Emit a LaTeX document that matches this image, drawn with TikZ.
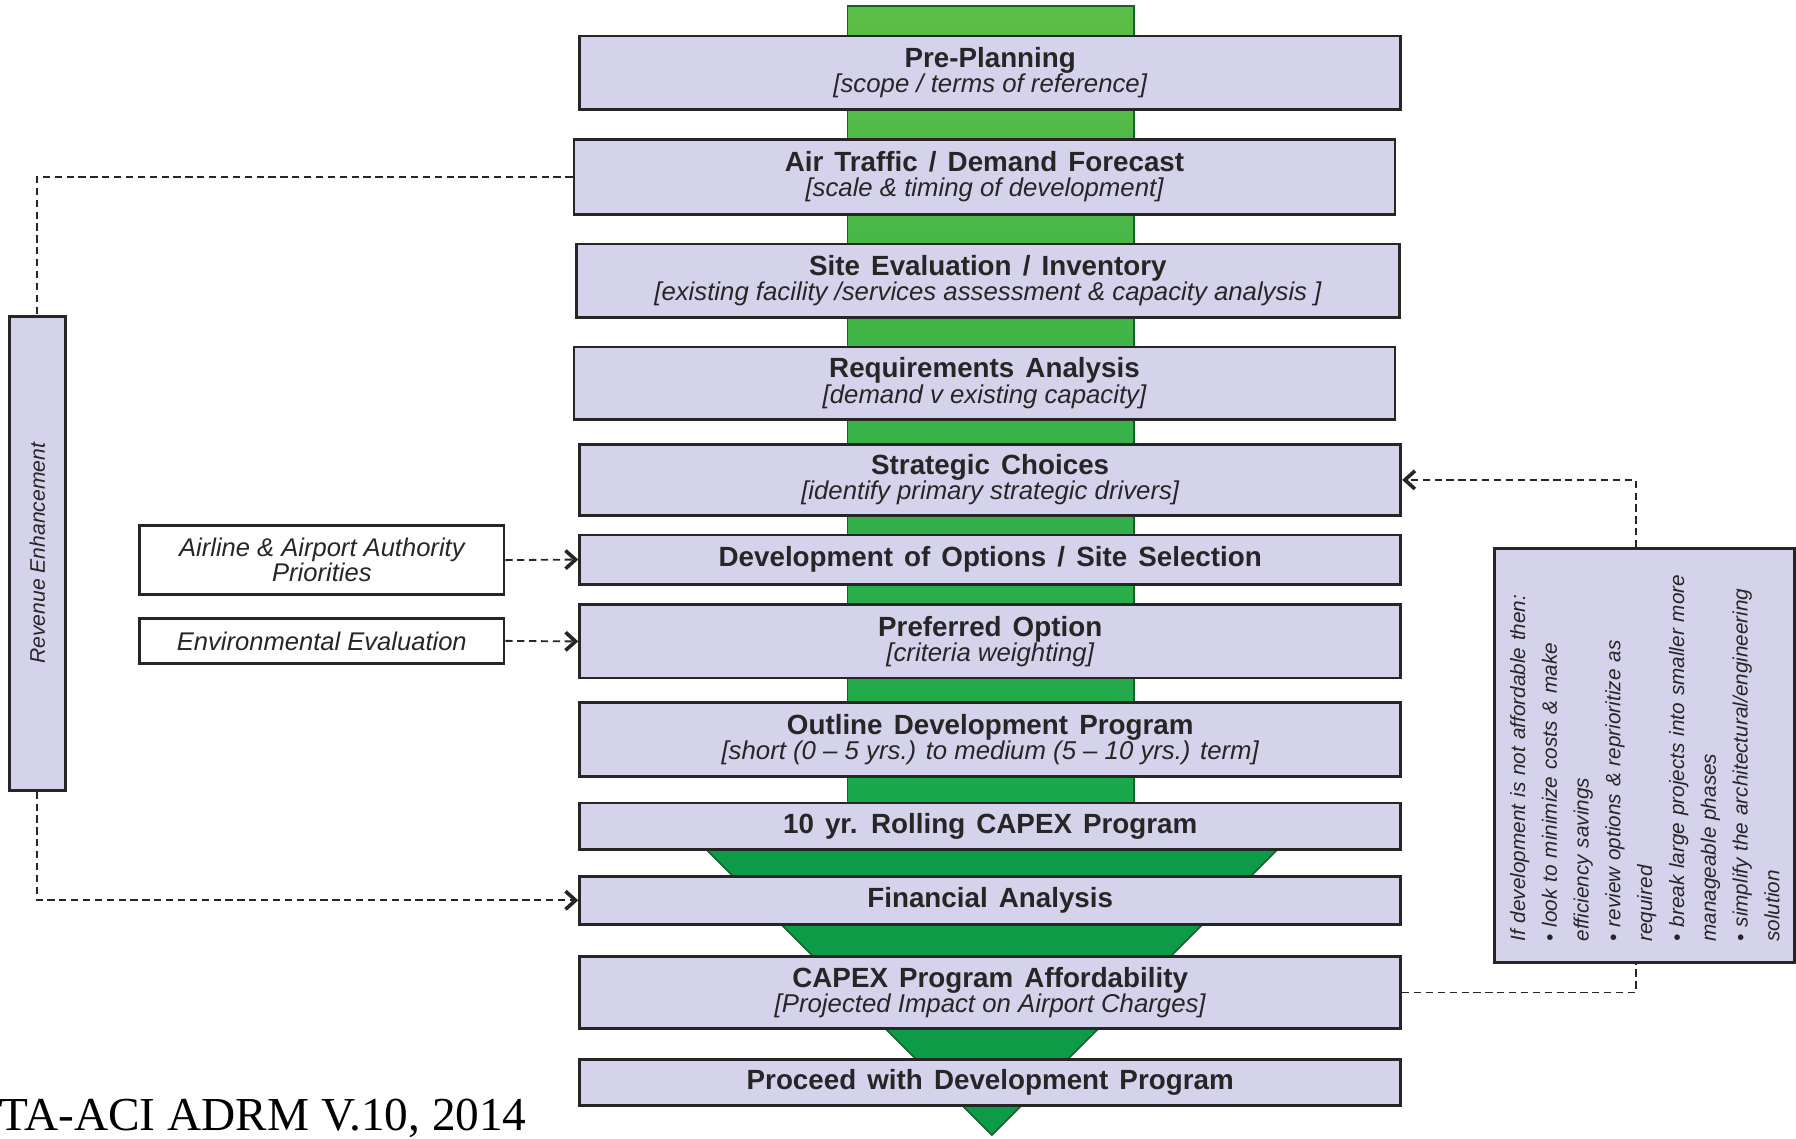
\documentclass[tikz,border=0pt]{standalone}
\usepackage{fontspec}
\setmainfont{Liberation Sans}
\newfontfamily\citefont{Liberation Serif}
\usetikzlibrary{arrows.meta}

\definecolor{stagefill}{RGB}{213,211,235}
\definecolor{barlight}{RGB}{92,190,70}
\definecolor{bardark}{RGB}{22,166,76}
\definecolor{funnel}{RGB}{14,155,72}
\definecolor{funneledge}{RGB}{24,96,44}

% wider word spaces in the stage titles
\newcommand{\widespaces}{\spaceskip=0.4em plus 0.1em\relax}

\tikzset{
  stage/.style={draw=black!85, line width=1.4pt, fill=stagefill,
    minimum width=14.34cm, minimum height=1.28cm, inner sep=0pt,
    align=center, text=black!85,
    font=\fontsize{13.8}{12.5}\selectfont\bfseries\widespaces},
  input/.style={draw=black!85, line width=1.4pt, fill=white,
    minimum width=6.36cm, inner sep=0pt, align=center, text=black!85,
    font=\fontsize{12.7}{12.5}\selectfont\itshape},
  sidebox/.style={draw=black!85, line width=1.4pt, fill=stagefill, inner sep=0pt},
  link/.style={draw=black!85, line width=0.9pt, dash pattern=on 3.6pt off 2.3pt},
  tip/.style={-{Straight Barb[length=5pt,width=9pt,line width=1.8pt]}},
}
\newcommand{\stagenote}[1]{{\fontsize{12.8}{12.5}\selectfont\mdseries\itshape\spaceskip=0pt\relax #1}}

\begin{document}
\begin{tikzpicture}[x=0.02cm, y=-0.02cm]
\useasboundingbox (0,0) rectangle (1568,994);

% -- green spine and funnel (behind the stages) --------------------
\shade[top color=barlight, middle color=barlight!80!bardark, bottom color=bardark]
  (740,5) rectangle (990,735);
\draw[funneledge, line width=0.8pt] (740,735) -- (740,5) -- (990,5) -- (990,735);
\filldraw[fill=funnel, draw=funneledge, line width=0.8pt]
  (606,731) -- (1126,731) -- (866,991) -- cycle;

% -- stages --------------------------------------------------------
\node[stage] (pre) at (864.5,63.5)
  {Pre-Planning\\\stagenote{[scope / terms of reference]}};
\node[stage, minimum height=1.3cm] (forecast) at (859.5,154.5)
  {Air Traffic / Demand Forecast\\\stagenote{[scale \& timing of development]}};
\node[stage, minimum width=14.38cm] (site) at (862.5,245)
  {Site Evaluation / Inventory\\\stagenote{[existing facility /services assessment \& capacity analysis ]}};
\node[stage, minimum height=1.26cm] (reqs) at (859.5,334.5)
  {Requirements Analysis\\\stagenote{[demand v existing capacity]}};
\node[stage, minimum height=1.24cm] (choices) at (864.5,419)
  {Strategic Choices\\\stagenote{[identify primary strategic drivers]}};
\node[stage, minimum height=0.86cm] (options) at (864.5,488.5)
  {Development of Options / Site Selection};
\node[stage] (preferred) at (864.5,560)
  {Preferred Option\\\stagenote{[criteria weighting]}};
\node[stage, minimum height=1.3cm] (outline) at (864.5,645.5)
  {Outline Development Program\\\stagenote{[short (0 – 5 yrs.) to medium (5 – 10 yrs.) term]}};
\node[stage, minimum height=0.82cm] (capex) at (864.5,721.5)
  {10 yr. Rolling CAPEX Program};
\node[stage, minimum height=0.84cm] (finance) at (864.5,786)
  {Financial Analysis};
\node[stage, minimum height=1.26cm] (afford) at (864.5,866.5)
  {CAPEX Program Affordability\\\stagenote{[Projected Impact on Airport Charges]}};
\node[stage, minimum height=0.8cm] (proceed) at (864.5,945)
  {Proceed with Development Program};

% -- inputs on the left --------------------------------------------
\node[input, minimum height=1.2cm] (priorities) at (281,489)
  {Airline \& Airport Authority\\Priorities};
\node[input, minimum height=0.78cm] (enviro) at (281,559.5)
  {Environmental Evaluation};

\node[sidebox, minimum width=0.98cm, minimum height=8.28cm] (revenue) at (32.5,483) {};
\node[rotate=90, text=black!85, font=\fontsize{10.5}{12}\selectfont\itshape]
  (revenuetext) at (revenue.center) {Revenue Enhancement};

% -- affordability loop on the right -------------------------------
\node[sidebox, minimum width=5.24cm, minimum height=7.22cm] (affordcheck) at (1436,659.5) {};
\node[rotate=90, text width=6.5cm, align=left, inner sep=0pt, text=black!85,
      font=\fontsize{10.3}{15.8}\selectfont\itshape] (affordtext) at (affordcheck.center)
  {If development is not affordable then:\\
   • look to minimize costs \& make\\
   efficiency savings\\
   • review options \& reprioritize as\\
   required\\
   • break large projects into smaller more\\
   manageable phases\\
   • simplify the architectural/engineering\\
   solution};

% -- connectors ----------------------------------------------------
\draw[link] (forecast.west) -| (revenue.north);
\draw[link, tip] (revenue.south) |- (finance.west);
\draw[link, tip] (priorities.east) -- (options.west);
\draw[link, tip] (enviro.east) -- (preferred.west);
\draw[link] (afford.east) -| ([xshift=-0.16cm]affordcheck.south);
\draw[link, tip] ([xshift=-0.16cm]affordcheck.north) |- (choices.east);

% -- source line ---------------------------------------------------
\node[anchor=base west, inner sep=0pt, font=\citefont\fontsize{23.5}{26}\selectfont]
  (source) at (-1,987) {TA-ACI ADRM V.10, 2014};

\end{tikzpicture}
\end{document}
